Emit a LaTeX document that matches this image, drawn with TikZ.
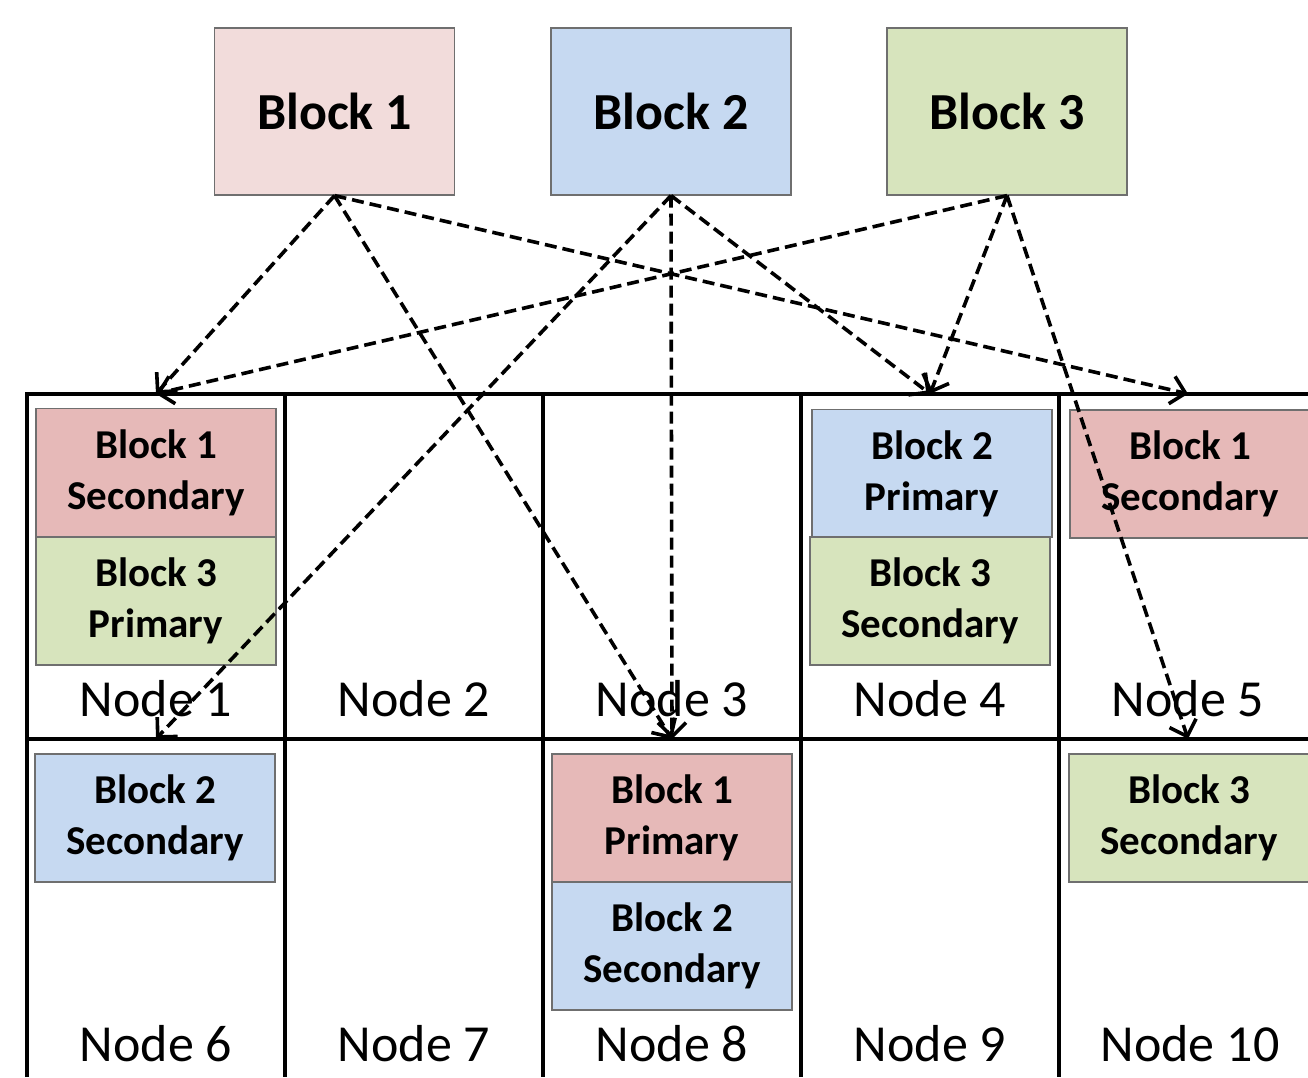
\documentclass[tikz,border=0pt]{standalone}
\usepackage{fontspec}
\setmainfont{Carlito}
\usetikzlibrary{arrows.meta}
\definecolor{topred}{HTML}{F2DCDB}
\definecolor{topblue}{HTML}{C6D9F1}
\definecolor{topgreen}{HTML}{D7E4BD}
\definecolor{inred}{HTML}{E6B9B8}
\definecolor{inblue}{HTML}{C6D9F1}
\definecolor{ingreen}{HTML}{D7E4BD}
\definecolor{edgegray}{HTML}{6F6F6F}
\tikzset{
  topblock/.style={draw=edgegray, line width=1.2pt, minimum width=240pt, minimum height=167pt, inner sep=0pt,
     font=\fontsize{52}{62}\selectfont\bfseries},
  inblock/.style={draw=edgegray, line width=1.2pt, minimum width=240pt, minimum height=128pt, inner sep=0pt,
     align=center, font=\fontsize{41}{51}\selectfont\bfseries},
  cell/.style={minimum width=258pt, minimum height=345pt, inner sep=0pt},
  celllabel/.style={font=\fontsize{52}{62}\selectfont, inner sep=0pt, anchor=base},
  gridline/.style={line width=3.2pt},
  link/.style={line width=3.6pt, dash pattern=on 12pt off 6pt, -{Straight Barb[length=14pt,width=28pt,line width=3.6pt]}}
}
\begin{document}
\begin{tikzpicture}[x=1pt,y=-1pt]
\useasboundingbox[fill=white] (0,0) rectangle (1308,1077);
% cells
\node[cell] (n1) at (156,566.5) {};
\node[cell] (n2) at (414,566.5) {};
\node[cell] (n3) at (672,566.5) {};
\node[cell] (n4) at (930,566.5) {};
\node[cell] (n5) at (1188,566.5) {};
\node[cell] (n6) at (156,911.5) {};
\node[cell] (n7) at (414,911.5) {};
\node[cell] (n8) at (672,911.5) {};
\node[cell] (n9) at (930,911.5) {};
\node[cell] (n10) at (1188,911.5) {};
% grid
\draw[gridline] (27,1077) -- (27,394) -- (1310,394);
\draw[gridline] (27,739) -- (1310,739);
\foreach \x in {285,543,801,1059} \draw[gridline] (\x,394) -- (\x,1077);
% top blocks
\node[topblock, fill=topred] (b1) at (334.5,111.5) {Block 1};
\node[topblock, fill=topblue] (b2) at (671,111.5) {Block 2};
\node[topblock, fill=topgreen] (b3) at (1007,111.5) {Block 3};
% inner blocks
\node[inblock, fill=inred] (n1a) at (156,472.5) {Block 1\\Secondary};
\node[inblock, fill=ingreen] (n1b) at (156,601) {Block 3\\Primary};
\node[inblock, fill=inblue] (n4a) at (932,473.5) {Block 2\\Primary};
\node[inblock, fill=ingreen] (n4b) at (930,601) {Block 3\\Secondary};
\node[inblock, fill=inred] (n5a) at (1190,474) {Block 1\\Secondary};
\node[inblock, fill=inblue] (n6a) at (155,818) {Block 2\\Secondary};
\node[inblock, fill=inred] (n8a) at (672,818) {Block 1\\Primary};
\node[inblock, fill=inblue] (n8b) at (672,946) {Block 2\\Secondary};
\node[inblock, fill=ingreen] (n10a) at (1189,818) {Block 3\\Secondary};
% labels
\node[celllabel] (l1) at (156,716) {Node 1};
\node[celllabel] (l2) at (414,716) {Node 2};
\node[celllabel] (l3) at (672,716) {Node 3};
\node[celllabel] (l4) at (930,716) {Node 4};
\node[celllabel] (l5) at (1188,716) {Node 5};
\node[celllabel] (l6) at (156,1061) {Node 6};
\node[celllabel] (l7) at (414,1061) {Node 7};
\node[celllabel] (l8) at (672,1061) {Node 8};
\node[celllabel] (l9) at (930,1061) {Node 9};
\node[celllabel] (l10) at (1190,1061) {Node 10};
% links
\draw[link] (b1.south) -- (n1.north);
\draw[link] (b1.south) -- (n3.south);
\draw[link] (b1.south) -- (n5.north);
\draw[link] (b2.south) -- (n6.north);
\draw[link] (b2.south) -- (n3.south);
\draw[link] (b2.south) -- (n4.north);
\draw[link] (b3.south) -- (n1.north);
\draw[link] (b3.south) -- (n4.north);
\draw[link] (b3.south) -- (n10.north);
\end{tikzpicture}
\end{document}
